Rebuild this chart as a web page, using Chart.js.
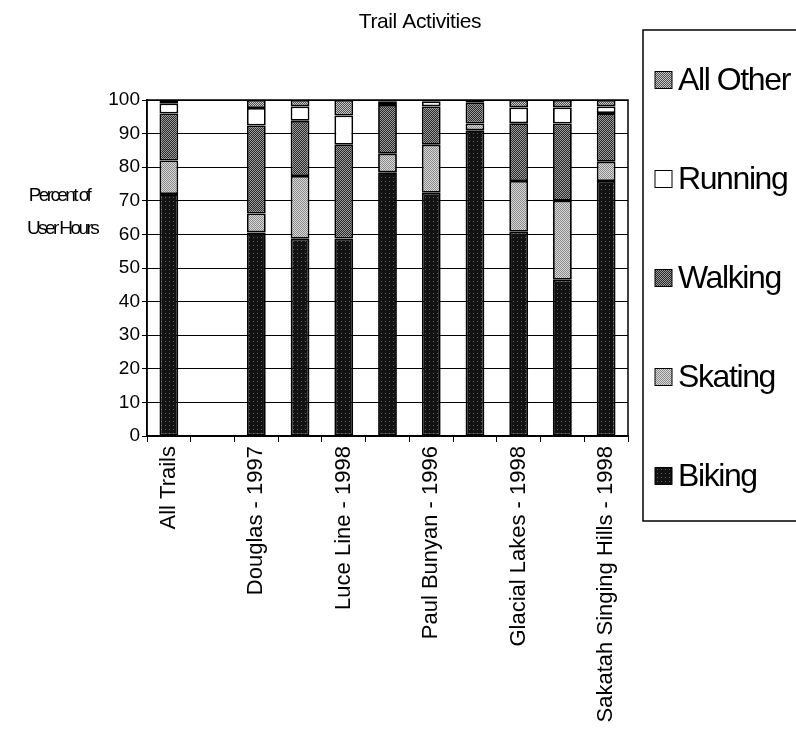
<!DOCTYPE html>
<html lang="en">
  <head>
    <meta charset="UTF-8" />
    <title>Trail Activities</title>
    <script src="https://cdn.jsdelivr.net/npm/chart.js@4.4.1/dist/chart.umd.min.js"></script>
    <style>
      html, body { margin: 0; padding: 0; background: #fff; }
      #wrap { width: 796px; height: 729px; }
    </style>
  </head>
  <body>
    <div id="wrap"><canvas id="trailChart"></canvas></div>
    <script>
      // categories (blank slots keep their bars but show no label, like the original)
      const categories = [
        "All Trails", "", "Douglas - 1997", "", "Luce Line - 1998", "",
        "Paul Bunyan - 1996", "", "Glacial Lakes - 1998", "", "Sakatah Singing Hills - 1998"
      ];
      const biking   = [72, null, 60.6, 58.7, 58.8, 78.5, 72.4, 91, 60.8, 46.5, 75.9];
      const skating  = [10, null, 5.6, 18.7, 0, 5.5, 14.3, 2, 15.1, 23.5, 5.7];
      const walking  = [14, null, 26.2, 16.4, 27.9, 14.5, 11.4, 6.2, 17.2, 23, 14.5];
      const running  = [3, null, 5.2, 4.3, 8.7, 1, 1.5, 0, 4.7, 4.8, 2];
      const allOther = [1, null, 2.4, 1.9, 4.6, 0.5, 0.4, 0.8, 2.2, 2.2, 1.9];
      const yTicks = [0, 10, 20, 30, 40, 50, 60, 70, 80, 90, 100];

      const regular = "'Liberation Sans', Arial, sans-serif";

      // small dotted fills to imitate the printed hatching
      function dots(size, bg, fg, pts) {
        const c = document.createElement("canvas");
        c.width = size;
        c.height = size;
        const g = c.getContext("2d");
        g.fillStyle = bg;
        g.fillRect(0, 0, size, size);
        g.fillStyle = fg;
        pts.forEach(function (p) { g.fillRect(p[0], p[1], 1, 1); });
        return g.createPattern(c, "repeat");
      }
      const ctx = document.getElementById("trailChart").getContext("2d");
      const fillBiking = dots(4, "#121212", "#5e5e5e", [[1, 1]]);
      const fillSkating = dots(2, "#d8d8d8", "#8a8a8a", [[0, 0], [1, 1]]);
      const fillWalking = dots(2, "#2a2a2a", "#9a9a9a", [[0, 0], [1, 1]]);
      const fillOther = dots(2, "#4e4e4e", "#c8c8c8", [[0, 0], [1, 1]]);

      const series = [
        { label: "Biking", data: biking, fill: fillBiking },
        { label: "Skating", data: skating, fill: fillSkating },
        { label: "Walking", data: walking, fill: fillWalking },
        { label: "Running", data: running, fill: "#ffffff" },
        { label: "All Other", data: allOther, fill: fillOther },
      ];

      const extras = {
        id: "extras",
        beforeDatasetsDraw(chart) {
          const a = chart.chartArea;
          const c = chart.ctx;
          c.save();
          c.strokeStyle = "#000";
          c.lineWidth = 1.5;
          c.strokeRect(a.left, a.top, a.right - a.left, a.bottom - a.top);
          c.restore();
        },
        afterDraw(chart) {
          const c = chart.ctx;
          c.save();
          c.fillStyle = "#000";
          // title
          c.font = "21px " + regular;
          c.textAlign = "center";
          c.textBaseline = "middle";
          c.letterSpacing = "-0.4px";
          c.fillText("Trail Activities", 420, 22);
          // y axis caption
          c.font = "19px " + regular;
          c.letterSpacing = "-2.6px";
          c.fillText("Percent of", 59, 196);
          c.fillText("User Hours", 62, 229);
          // legend box
          c.strokeStyle = "#000";
          c.lineWidth = 1.5;
          c.strokeRect(643, 30, 170, 491);
          c.font = "32px " + regular;
          c.letterSpacing = "-1.4px";
          c.textAlign = "left";
          const sets = chart.data.datasets.slice().reverse();
          sets.forEach(function (ds, i) {
            const y = 80 + i * 99;
            c.fillStyle = ds.backgroundColor;
            c.fillRect(655, y - 8.5, 17, 17);
            c.lineWidth = 1;
            c.strokeRect(655, y - 8.5, 17, 17);
            c.fillStyle = "#000";
            c.fillText(ds.label, 678, y + 1);
          });
          c.restore();
        },
      };

      new Chart(ctx, {
        type: "bar",
        data: {
          labels: categories,
          datasets: series.map(function (s) {
            return {
              label: s.label,
              data: s.data,
              backgroundColor: s.fill,
              borderColor: "#000",
              borderWidth: 1.8,
              borderSkipped: false,
              categoryPercentage: 1,
              barPercentage: 0.43,
            };
          }),
        },
        options: {
          responsive: true,
          maintainAspectRatio: false,
          animation: false,
          layout: { padding: { top: 100, right: 168, bottom: 0, left: 0 } },
          plugins: {
            legend: { display: false },
            title: { display: false },
            tooltip: { enabled: false },
          },
          scales: {
            x: {
              stacked: true,
              afterFit: function (scale) { scale.height = 293; },
              grid: {
                offset: true,
                drawOnChartArea: false,
                drawTicks: true,
                tickLength: 6,
                color: "#000",
                lineWidth: 1,
              },
              border: { display: true, color: "#000", width: 1.5 },
              ticks: {
                autoSkip: false,
                minRotation: 90,
                maxRotation: 90,
                padding: 4,
                color: "#000",
                font: { family: regular, size: 22 },
              },
            },
            y: {
              stacked: true,
              min: 0,
              max: 100,
              afterFit: function (scale) { scale.width = 147; },
              afterBuildTicks: function (scale) {
                scale.ticks = yTicks.map(function (v) { return { value: v }; });
              },
              grid: {
                color: "#000",
                lineWidth: 1,
                drawTicks: true,
                tickLength: 5,
              },
              border: { display: true, color: "#000", width: 1.5 },
              ticks: {
                padding: 2,
                color: "#000",
                font: { family: regular, size: 19 },
              },
            },
          },
        },
        plugins: [extras],
      });
    </script>
  </body>
</html>
